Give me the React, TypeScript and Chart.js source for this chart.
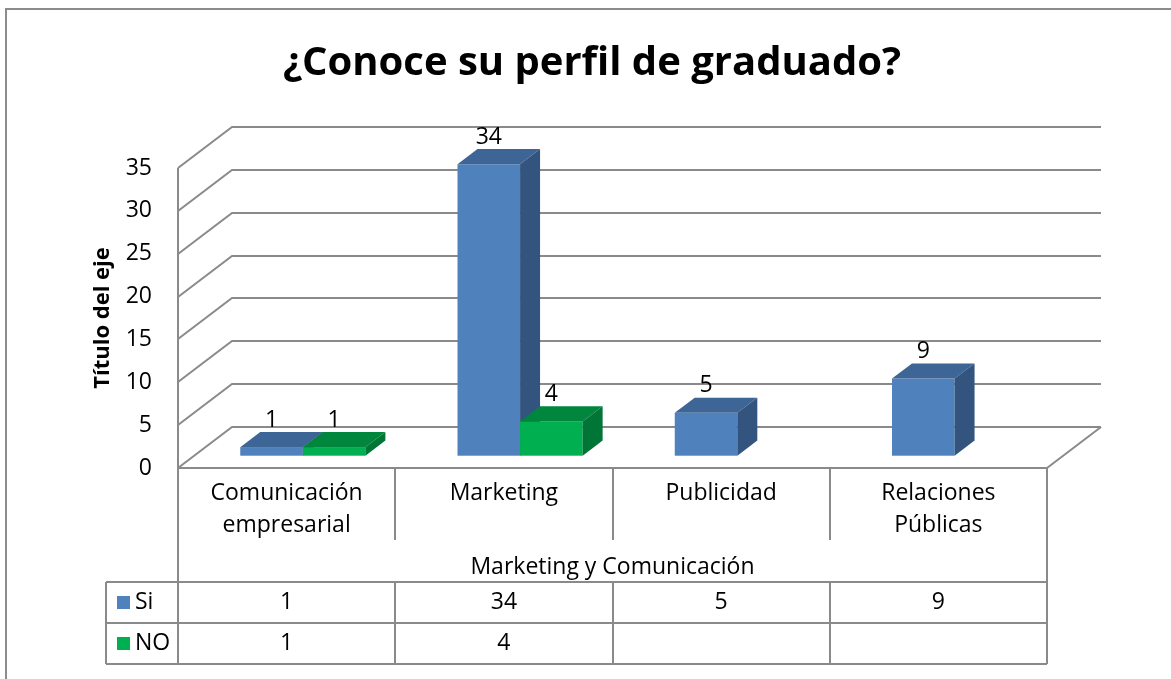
import React, { useEffect, useRef } from 'react';
import { Chart, registerables } from 'chart.js';

Chart.register(...registerables);

// ---------- data ----------
const chartTitle = '¿Conoce su perfil de graduado?';
const yAxisTitle = 'Título del eje';
const groupLabel = 'Marketing y Comunicación';
const categories: string[][] = [
  ['Comunicación', 'empresarial'],
  ['Marketing'],
  ['Publicidad'],
  ['Relaciones', 'Públicas'],
];
const seriesNames = ['Si', 'NO'];
const siValues: (number | null)[] = [1, 34, 5, 9];
const noValues: (number | null)[] = [1, 4, null, null];
const yMin = 0;
const yMax = 35;
const yStep = 5;

// ---------- style ----------
const FONT = '"Open Sans", "Noto Sans", sans-serif';
const palette = [
  { front: '#4F81BD', top: '#3D6595', side: '#32547E' },
  { front: '#00B050', top: '#00873D', side: '#007536' },
];
const GRID = '#8a8a8a';
const WALL_DX = 54;
const WALL_DY = -41;
const BAR_FRONT = 0.3;
const BAR_BACK = 0.67;
const LABEL_SIZE = 23;

const excel3d = {
  id: 'excel3d',
  beforeDraw(chart: any) {
    const { ctx } = chart;
    ctx.save();
    ctx.fillStyle = '#ffffff';
    ctx.fillRect(0, 0, chart.width, chart.height);
    ctx.fillStyle = '#8c8c8c';
    ctx.fillRect(5, 8, 2, chart.height);
    ctx.fillRect(5, 8, chart.width, 2);
    ctx.fillStyle = '#000';
    ctx.font = `bold 40px ${FONT}`;
    ctx.textAlign = 'center';
    ctx.textBaseline = 'middle';
    ctx.fillText(chartTitle, 592, 64);
    ctx.restore();
  },
  beforeDatasetsDraw(chart: any) {
    const { ctx, chartArea } = chart;
    const { left, right, top, bottom } = chartArea;
    const ys = chart.scales.y;
    ctx.save();
    ctx.strokeStyle = GRID;
    ctx.lineWidth = 2;
    for (let v = yMin; v <= yMax; v += yStep) {
      const py = Math.round(ys.getPixelForValue(v));
      ctx.beginPath();
      ctx.moveTo(left, py);
      ctx.lineTo(left + WALL_DX, py + WALL_DY);
      ctx.lineTo(right + WALL_DX, py + WALL_DY);
      ctx.stroke();
    }
    ctx.beginPath();
    ctx.moveTo(left, top);
    ctx.lineTo(left, bottom);
    ctx.moveTo(right, bottom);
    ctx.lineTo(right + WALL_DX, bottom + WALL_DY);
    ctx.stroke();
    ctx.restore();
  },
  afterDatasetsDraw(chart: any) {
    const { ctx } = chart;
    const fx = BAR_FRONT * WALL_DX;
    const fy = BAR_FRONT * WALL_DY;
    const dx = (BAR_BACK - BAR_FRONT) * WALL_DX;
    const dy = (BAR_BACK - BAR_FRONT) * WALL_DY;
    const labels: { x: number; y: number; t: string }[] = [];
    ctx.save();
    for (let i = 0; i < categories.length; i++) {
      chart.data.datasets.forEach((ds: any, di: number) => {
        const v = ds.data[i];
        if (v == null) return;
        const el = chart.getDatasetMeta(di).data[i];
        const { x, y, base, width } = el.getProps(['x', 'y', 'base', 'width'], true);
        const x0 = x - width / 2 + fx;
        const x1 = x + width / 2 + fx;
        const yt = y + fy;
        const yb = base + fy;
        const c = palette[di];
        ctx.fillStyle = c.front;
        ctx.fillRect(x0, yt, x1 - x0, yb - yt);
        ctx.fillStyle = c.top;
        ctx.beginPath();
        ctx.moveTo(x0, yt);
        ctx.lineTo(x1, yt);
        ctx.lineTo(x1 + dx, yt + dy);
        ctx.lineTo(x0 + dx, yt + dy);
        ctx.closePath();
        ctx.fill();
        ctx.fillStyle = c.side;
        ctx.beginPath();
        ctx.moveTo(x1, yt);
        ctx.lineTo(x1 + dx, yt + dy);
        ctx.lineTo(x1 + dx, yb + dy);
        ctx.lineTo(x1, yb);
        ctx.closePath();
        ctx.fill();
        labels.push({ x: (x0 + x1) / 2, y: yt - 27, t: String(v) });
      });
    }
    ctx.fillStyle = '#000';
    ctx.font = `${LABEL_SIZE}px ${FONT}`;
    ctx.textAlign = 'center';
    ctx.textBaseline = 'middle';
    labels.forEach((l) => ctx.fillText(l.t, l.x, l.y));
    ctx.restore();
  },
  afterDraw(chart: any) {
    const { ctx, chartArea } = chart;
    const { left, right, bottom } = chartArea;
    const xs = chart.scales.x;
    const n = categories.length;
    const centers = categories.map((_, i) => xs.getPixelForValue(i));
    const bounds = [left];
    for (let i = 0; i < n - 1; i++) bounds.push(Math.round((centers[i] + centers[i + 1]) / 2));
    bounds.push(right);
    const rowCat = 540;
    const rowGroup = 582;
    const rowSi = 623;
    const rowNo = 664;
    const legendLeft = 106;

    ctx.save();
    ctx.strokeStyle = GRID;
    ctx.lineWidth = 2;
    ctx.beginPath();
    ctx.moveTo(left, bottom);
    ctx.lineTo(right, bottom);
    for (let i = 1; i < n; i++) {
      ctx.moveTo(bounds[i], bottom);
      ctx.lineTo(bounds[i], rowCat);
    }
    ctx.moveTo(left, bottom);
    ctx.lineTo(left, rowNo);
    ctx.moveTo(right, bottom);
    ctx.lineTo(right, rowNo);
    [rowGroup, rowSi, rowNo].forEach((yy) => {
      ctx.moveTo(legendLeft, yy);
      ctx.lineTo(right, yy);
    });
    ctx.moveTo(legendLeft, rowGroup);
    ctx.lineTo(legendLeft, rowNo);
    for (let i = 1; i < n; i++) {
      ctx.moveTo(bounds[i], rowGroup);
      ctx.lineTo(bounds[i], rowNo);
    }
    ctx.stroke();

    ctx.fillStyle = '#000';
    ctx.font = `${LABEL_SIZE}px ${FONT}`;
    ctx.textAlign = 'center';
    ctx.textBaseline = 'middle';
    categories.forEach((lines, i) => {
      lines.forEach((t, li) => ctx.fillText(t, centers[i], 493 + li * 32));
    });
    ctx.fillText(groupLabel, (left + right) / 2, 567);
    const rowsY = [602, 643];
    chart.data.datasets.forEach((ds: any, di: number) => {
      ds.data.forEach((v: number | null, i: number) => {
        if (v == null) return;
        ctx.fillText(String(v), centers[i], rowsY[di]);
      });
      ctx.fillStyle = palette[di].front;
      ctx.fillRect(117, rowsY[di] - 6, 13, 13);
      ctx.fillStyle = '#000';
      ctx.textAlign = 'left';
      ctx.fillText(ds.label, 135, rowsY[di]);
      ctx.textAlign = 'center';
    });
    ctx.restore();
  },
};

export default function App() {
  const ref = useRef<HTMLCanvasElement | null>(null);
  useEffect(() => {
    if (!ref.current) return;
    const chart = new Chart(ref.current, {
      type: 'bar',
      data: {
        labels: categories.map((c) => c.join(' ')),
        datasets: [
          { label: seriesNames[0], data: siValues, backgroundColor: 'rgba(0,0,0,0)' },
          { label: seriesNames[1], data: noValues, backgroundColor: 'rgba(0,0,0,0)' },
        ],
      },
      options: {
        responsive: false,
        animation: false,
        devicePixelRatio: 1,
        layout: { padding: { top: 168, left: 85, right: 124, bottom: 211 } },
        datasets: { bar: { categoryPercentage: 0.576, barPercentage: 1 } },
        plugins: { legend: { display: false }, title: { display: false }, tooltip: { enabled: false } },
        scales: {
          x: { display: false },
          y: {
            min: yMin,
            max: yMax,
            ticks: { stepSize: yStep, padding: 26, color: '#000', font: { family: FONT, size: LABEL_SIZE } },
            grid: { display: false, drawTicks: false },
            border: { display: false },
            title: {
              display: true,
              text: yAxisTitle,
              color: '#000',
              font: { family: FONT, size: 22, weight: 'bold' },
              padding: { top: 5, bottom: 0 },
            },
            afterFit: (scale: any) => {
              scale.width = 93;
            },
          },
        },
      },
      plugins: [excel3d],
    } as any);
    return () => chart.destroy();
  }, []);
  return (
    <div style={{ position: 'fixed', left: 0, top: 0, width: 1171, height: 679, background: '#fff' }}>
      <canvas ref={ref} width={1171} height={679} style={{ display: 'block' }} />
    </div>
  );
}
